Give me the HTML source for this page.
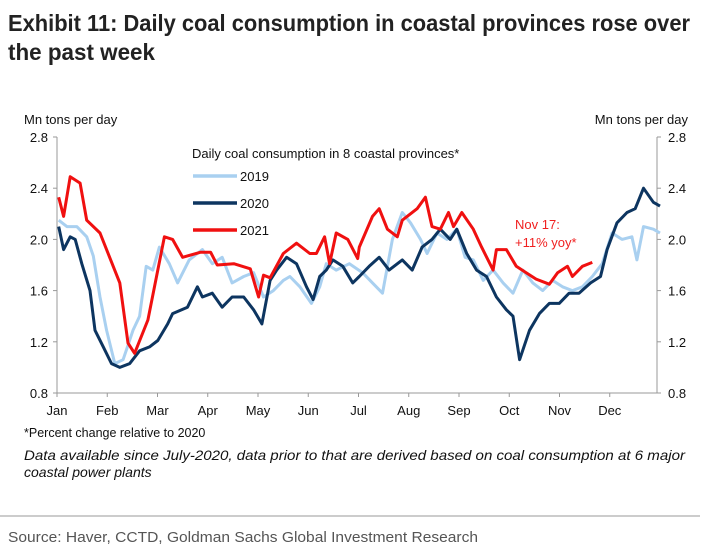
<!DOCTYPE html>
<html><head><meta charset="utf-8"><style>
html,body{margin:0;padding:0;background:#fff;}
svg{display:block;font-family:"Liberation Sans",Arial,sans-serif;}
</style></head><body>
<svg width="710" height="553" viewBox="0 0 710 553">
<text x="8" y="31" font-size="23" font-weight="bold" fill="#222" textLength="682" lengthAdjust="spacingAndGlyphs">Exhibit 11: Daily coal consumption in coastal provinces rose over</text>
<text x="8" y="60" font-size="23" font-weight="bold" fill="#222" textLength="147" lengthAdjust="spacingAndGlyphs">the past week</text>
<text x="24" y="124" font-size="13" fill="#111">Mn tons per day</text>
<text x="688" y="124" font-size="13" fill="#111" text-anchor="end">Mn tons per day</text>
<g id="axes"></g>
<g id="series"></g>
<text x="192" y="158" font-size="13" fill="#111">Daily coal consumption in 8 coastal provinces*</text>
<g><line x1="193" x2="237" y1="176" y2="176" stroke="#a9d0f0" stroke-width="3.5"/><text x="240" y="181" font-size="13" fill="#111">2019</text></g>
<g><line x1="193" x2="237" y1="203" y2="203" stroke="#0d3560" stroke-width="3.5"/><text x="240" y="208" font-size="13" fill="#111">2020</text></g>
<g><line x1="193" x2="237" y1="230" y2="230" stroke="#f01010" stroke-width="3.5"/><text x="240" y="235" font-size="13" fill="#111">2021</text></g>
<text x="515" y="229" font-size="13" fill="#f02020">Nov 17:</text>
<text x="515" y="247" font-size="13" fill="#f02020">+11% yoy*</text>
<text x="24" y="437" font-size="12.5" fill="#111">*Percent change relative to 2020</text>
<text x="24" y="460" font-size="14" font-style="italic" fill="#111" textLength="661" lengthAdjust="spacingAndGlyphs">Data available since July-2020, data prior to that are derived based on coal consumption at 6 major</text>
<text x="24" y="477" font-size="14" font-style="italic" fill="#111">coastal power plants</text>
<line x1="0" x2="700" y1="516" y2="516" stroke="#999" stroke-width="1"/>
<text x="8" y="542" font-size="15" fill="#555" textLength="470" lengthAdjust="spacingAndGlyphs">Source: Haver, CCTD, Goldman Sachs Global Investment Research</text>
</svg>
<script>
const yTicks=[0.8,1.2,1.6,2.0,2.4,2.8];
const yTickLabels=["0.8","1.2","1.6","2.0","2.4","2.8"];
const months=["Jan","Feb","Mar","Apr","May","Jun","Jul","Aug","Sep","Oct","Nov","Dec"];
const days2019=[1,6,12,18,22,26,30,35,40,46,50,54,58,62,68,73,80,88,94,100,106,113,119,125,131,137,141,147,154,159,163,169,177,185,191,197,203,209,214,220,224,230,236,242,247,252,258,264,270,276,282,288,294,300,306,312,318,324,330,336,342,348,351,355,361,365];
const vals2019=[2.15,2.1,2.1,2.02,1.87,1.55,1.29,1.03,1.06,1.29,1.4,1.79,1.76,1.94,1.81,1.66,1.84,1.92,1.81,1.86,1.66,1.71,1.74,1.55,1.6,1.68,1.71,1.63,1.5,1.63,1.81,1.76,1.81,1.74,1.66,1.58,2.0,2.21,2.13,2.0,1.89,2.05,2.0,2.08,1.86,1.84,1.68,1.76,1.66,1.58,1.76,1.66,1.6,1.68,1.63,1.6,1.63,1.71,1.81,2.05,2.0,2.02,1.84,2.1,2.08,2.05];
const days2020=[1,4,8,11,15,20,23,28,33,38,44,50,56,61,67,70,79,85,88,94,100,106,113,119,124,129,133,139,145,151,155,159,163,167,173,179,183,189,195,201,209,215,221,227,232,238,242,248,254,260,266,272,276,280,286,292,298,304,310,316,323,329,333,339,345,350,355,361,365];
const vals2020=[2.1,1.92,2.02,2.0,1.81,1.6,1.29,1.16,1.03,1.0,1.03,1.13,1.16,1.21,1.34,1.42,1.47,1.63,1.55,1.58,1.47,1.55,1.55,1.45,1.34,1.68,1.76,1.86,1.81,1.63,1.53,1.71,1.76,1.84,1.79,1.66,1.71,1.79,1.86,1.76,1.84,1.76,1.94,2.0,2.08,2.0,2.08,1.89,1.76,1.71,1.55,1.45,1.4,1.06,1.29,1.42,1.5,1.5,1.58,1.58,1.66,1.71,1.92,2.13,2.21,2.24,2.4,2.29,2.26,2.42];
const days2021=[1,4,8,14,18,26,34,38,43,47,55,61,65,70,76,87,93,97,107,117,122,125,129,137,145,153,157,162,165,169,176,182,183,191,195,200,206,209,218,223,227,232,237,240,245,252,257,264,266,272,278,284,290,298,303,309,312,318,324];
const vals2021=[2.33,2.18,2.49,2.44,2.15,2.05,1.79,1.66,1.19,1.11,1.37,1.76,2.02,2.0,1.86,1.9,1.9,1.8,1.81,1.77,1.55,1.72,1.7,1.89,1.97,1.89,1.89,2.02,1.81,2.05,2.0,1.85,1.94,2.18,2.24,2.08,2.02,2.15,2.24,2.33,2.1,2.08,2.21,2.1,2.21,2.08,1.94,1.76,1.92,1.92,1.79,1.74,1.69,1.65,1.74,1.79,1.71,1.79,1.82];

const NS="http://www.w3.org/2000/svg";
const X0=57,X1=660,Y0=393,Y1=137;
function xs(d){return X0+(d/365)*(X1-X0);}
function ys(v){return Y0-(v-0.8)/2.0*(Y0-Y1);}
function mk(tag,attrs,parent){const e=document.createElementNS(NS,tag);for(const k in attrs)e.setAttribute(k,attrs[k]);parent.appendChild(e);return e;}
const ax=document.getElementById('axes');
let l=mk('line',{x1:X0,x2:X0,y1:Y1,y2:Y0,stroke:'#999','stroke-width':1},ax);


l=mk('line',{x1:X1-3,x2:X1-3,y1:Y1,y2:Y0,stroke:'#999','stroke-width':1},ax);


l=mk('line',{x1:X0,x2:X1-3,y1:Y0,y2:Y0,stroke:'#999','stroke-width':1},ax);


yTicks.forEach((v,i)=>{
  const y=ys(v);
  mk('line',{x1:X0-4,x2:X0,y1:y,y2:y,stroke:'#999'},ax);
  mk('line',{x1:X1-3,x2:X1+1,y1:y,y2:y,stroke:'#999'},ax);
  let t=mk('text',{x:X0-9,y:y+5,'font-size':13,'text-anchor':'end',fill:'#111'},ax);
  t.textContent=yTickLabels[i];
  
  
  t=mk('text',{x:X1+8,y:y+5,'font-size':13,fill:'#111'},ax);
  t.textContent=yTickLabels[i];
  
  
});
months.forEach((m,i)=>{
  const x=xs(i*365/12);
  mk('line',{x1:x,x2:x,y1:Y0,y2:Y0+4,stroke:'#999'},ax);
  const t=mk('text',{x:x,y:Y0+22,'font-size':13,'text-anchor':'middle',fill:'#111'},ax);
  t.textContent=m;
  
  
});
const sg=document.getElementById('series');
function draw(days,vals,color,name){
  const d=days.map((dd,i)=>(i?'L':'M')+xs(dd).toFixed(1)+' '+ys(vals[i]).toFixed(1)).join(' ');
  const p=mk('path',{d:d,fill:'none',stroke:color,'stroke-width':3,'stroke-linejoin':'round'},sg);
  
  
}
draw(days2019,vals2019,'#a9d0f0','line-2019');
draw(days2020,vals2020,'#0d3560','line-2020');
draw(days2021,vals2021,'#f01010','line-2021');
</script>
</body></html>
